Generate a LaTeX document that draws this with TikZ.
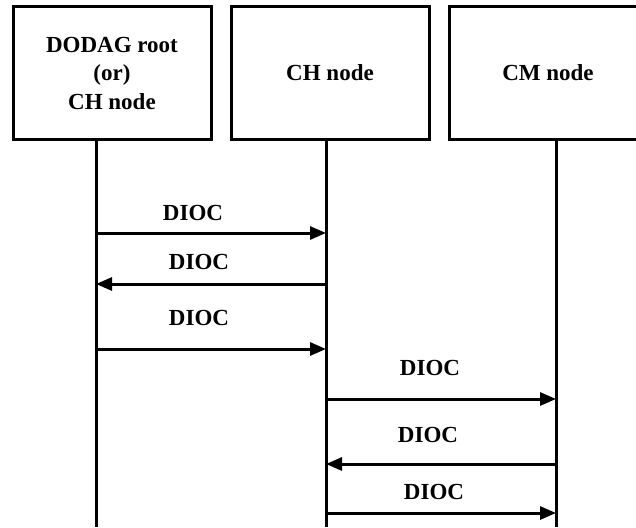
\documentclass[tikz,border=0pt]{standalone}
\usepackage{fontspec}
\setmainfont{Liberation Serif}
\usetikzlibrary{arrows.meta}

\tikzset{
  entity/.style={draw, line width=3pt, minimum width=198pt, minimum height=132pt,
    align=center, inner sep=0pt, font=\fontsize{23}{28.5}\selectfont\bfseries},
  lifeline/.style={line width=3pt},
  msg/.style={line width=3pt, -{Triangle[length=16pt,width=13pt]}},
  msglabel/.style={inner sep=0pt, font=\fontsize{23}{28}\selectfont\bfseries}
}

\begin{document}
\begin{tikzpicture}[x=1pt,y=-1pt]
	\useasboundingbox (0,0) rectangle (636,527);
	% the three parties
	\node[entity] (root) at (112,73) {DODAG root\\(or)\\CH node};
	\node[entity] (ch) at (330,73) {CH node};
	\node[entity] (cm) at (548,73) {CM node};
	% lifelines
	\coordinate (l1) at (96,527);
	\coordinate (l2) at (326,527);
	\coordinate (l3) at (556,527);
	\draw[lifeline] (root.south -| l1) -- (l1);
	\draw[lifeline] (ch.south -| l2) -- (l2);
	\draw[lifeline] (cm.south -| l3) -- (l3);
	% messages
	\foreach \y/\from/\to/\dy/\dx in {233/l1/l2/20/-18, 284/l2/l1/22/-12, 349/l1/l2/31/-12,
		399/l2/l3/31/-11, 464/l3/l2/29/-13, 513/l2/l3/21/-7}
		\draw[msg] (\from |- 0,\y) -- node[msglabel, yshift=\dy pt, xshift=\dx pt] {DIOC} (\to |- 0,\y);
\end{tikzpicture}
\end{document}
